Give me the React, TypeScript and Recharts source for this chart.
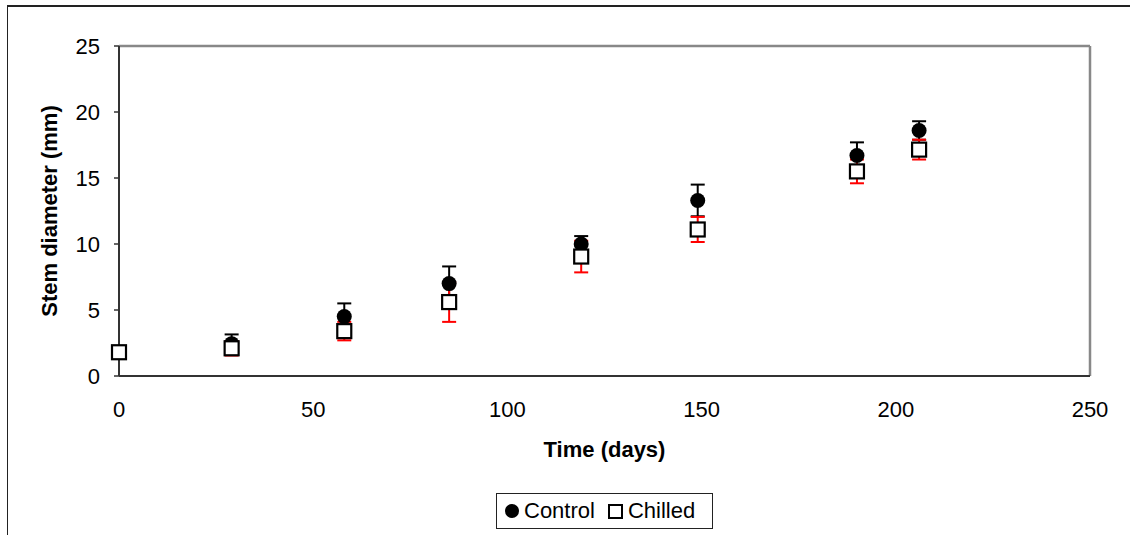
import { ScatterChart, Scatter, XAxis, YAxis, ErrorBar, ReferenceLine } from "recharts";

// Días de muestreo y diámetro medio del tallo (mm) con su error
const days = [0, 29, 58, 85, 119, 149, 190, 206];
const controlMean = [1.8, 2.45, 4.5, 7.0, 10.0, 13.3, 16.7, 18.6];
const controlErr = [0.1, 0.7, 1.0, 1.3, 0.6, 1.2, 1.0, 0.7];
const chilledMean = [1.8, 2.1, 3.4, 5.6, 9.05, 11.1, 15.5, 17.15];
const chilledErr = [0.1, 0.55, 0.7, 1.5, 1.2, 0.95, 0.9, 0.75];
const xTicks = [0, 50, 100, 150, 200, 250];
const yTicks = [0, 5, 10, 15, 20, 25];

const FONT = "'Liberation Sans', Arial, sans-serif";

const control = days.map((x, i) => ({ x, y: controlMean[i], err: controlErr[i] }));
const chilled = days.map((x, i) => ({ x, y: chilledMean[i], err: chilledErr[i] }));

const Dot = (p: any) => <circle cx={p.cx} cy={p.cy} r={7.5} fill="#000" />;
const Box = (p: any) => (
  <rect x={p.cx - 7} y={p.cy - 7} width={14} height={14} fill="#fff" stroke="#000" strokeWidth={2.2} />
);

export default function App() {
  return (
    <div style={{ position: "absolute", left: 0, top: 0, width: 1130, height: 535, background: "#fff", fontFamily: FONT, overflow: "hidden" }}>
      <div style={{ position: "absolute", left: 7, top: 5, width: 1140, height: 560, borderTop: "2px solid #222", borderLeft: "1.5px solid #222" }} />
      <ScatterChart width={1130} height={535} margin={{ top: 46, right: 40, left: 44, bottom: 109 }} style={{ position: "absolute", left: 0, top: 0 }}>
        <XAxis
          type="number" dataKey="x" domain={[0, 250]} ticks={xTicks}
          height={50} tickLine={false} tickSize={0} tickMargin={25}
          axisLine={{ stroke: "#333", strokeWidth: 2 }}
          tick={{ fill: "#000", fontSize: 22, fontFamily: FONT }}
          label={{ value: "Time (days)", position: "bottom", offset: 15, style: { fill: "#000", fontSize: 22, fontWeight: 700, fontFamily: FONT } }}
        />
        <YAxis
          type="number" dataKey="y" domain={[0, 25]} ticks={yTicks}
          width={75} tickSize={5} tickMargin={14}
          tickLine={{ stroke: "#333", strokeWidth: 1.5 }}
          axisLine={{ stroke: "#333", strokeWidth: 2 }}
          tick={{ fill: "#000", fontSize: 22, fontFamily: FONT }}
          label={{ value: "Stem diameter (mm)", angle: -90, position: "insideLeft", offset: 5, style: { fill: "#000", fontSize: 22, fontWeight: 700, fontFamily: FONT, textAnchor: "middle" } }}
        />
        <ReferenceLine y={25} stroke="#888" strokeWidth={2.5} />
        <ReferenceLine x={250} stroke="#888" strokeWidth={2.5} />
        <Scatter name="Control" data={control} shape={Dot} isAnimationActive={false}>
          <ErrorBar dataKey="err" direction="y" width={7} stroke="#000" strokeWidth={2} />
        </Scatter>
        <Scatter name="Chilled" data={chilled} shape={Box} isAnimationActive={false}>
          <ErrorBar dataKey="err" direction="y" width={7} stroke="#f00" strokeWidth={2} />
        </Scatter>
      </ScatterChart>
      <div style={{ position: "absolute", left: 496, top: 493, width: 215, height: 34, border: "1.5px solid #222", display: "flex", alignItems: "center", fontSize: 22, color: "#000" }}>
        <span style={{ display: "inline-block", width: 14, height: 14, borderRadius: 7, background: "#000", marginLeft: 8, marginRight: 5 }} />
        <span>Control</span>
        <span style={{ display: "inline-block", width: 11, height: 11, border: "2px solid #000", marginLeft: 13, marginRight: 5 }} />
        <span>Chilled</span>
      </div>
    </div>
  );
}
